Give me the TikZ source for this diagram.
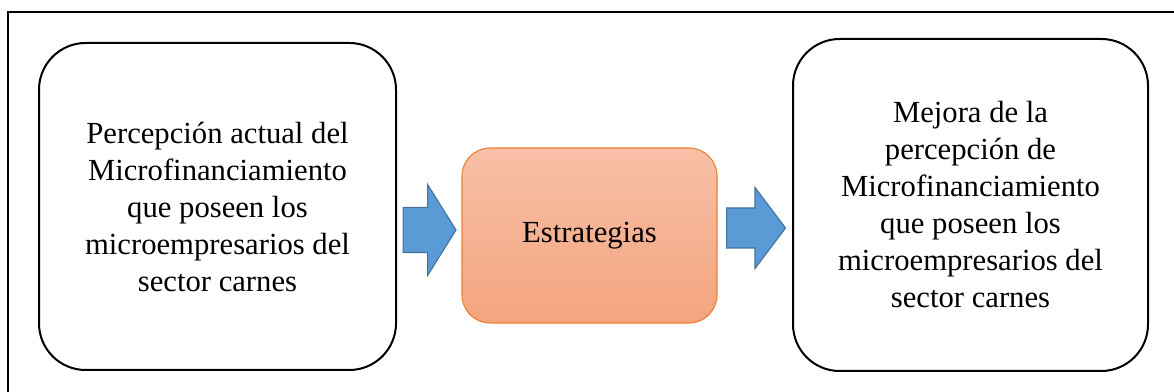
\documentclass[tikz,border=0pt]{standalone}
\usepackage{fontspec}
\setmainfont{Liberation Serif}
\usepackage{tikz}
\usetikzlibrary{shapes.arrows}
\definecolor{arrowblue}{HTML}{5B9BD5}
\definecolor{arrowedge}{HTML}{41719C}
\definecolor{stratop}{HTML}{F7C0A7}
\definecolor{strabot}{HTML}{F4A47E}
\definecolor{straedge}{HTML}{ED7D31}
\tikzstyle{box}=[draw,line width=1.5pt,rounded corners=35pt,align=center,font=\fontsize{23}{27.75}\selectfont]
\tikzstyle{strat}=[draw=straedge,line width=0.8pt,rounded corners=21pt,top color=stratop,bottom color=strabot,font=\fontsize{23}{27.75}\selectfont]
\tikzstyle{bigarrow}=[single arrow,draw=arrowedge,fill=arrowblue,line width=0.8pt,inner xsep=0pt,minimum width=0pt]

\begin{document}
\begin{tikzpicture}[x=0.75pt,y=0.75pt]
        \useasboundingbox (0,0) rectangle (1174,392);
        %\draw[help lines] (0,0) grid (1174,392);
        \draw[line width=1.5pt] (8,0) -- (8,380) -- (1174,380);
        \node[box,minimum width=267.75pt,minimum height=245.25pt] (actual) at (217.5,185.5)
          {Percepción actual del\\Microfinanciamiento\\que poseen los\\microempresarios del\\sector carnes};
        \node[strat,minimum width=191.25pt,minimum height=131.25pt] (estrategias) at (589.5,156.5) {Estrategias};
        \node[box,minimum width=266.25pt,minimum height=249pt] (mejora) at (970.5,187)
          {Mejora de la\\percepción de\\Microfinanciamiento\\que poseen los\\microempresarios del\\sector carnes};
        \node[bigarrow,inner ysep=16.5pt,single arrow head extend=17.25pt,minimum height=39.75pt,single arrow tip angle=116] (arrowin) at (422.5,162) {};
        \node[bigarrow,inner ysep=14.6pt,single arrow head extend=15.4pt,minimum height=44.25pt,single arrow tip angle=106] (arrowout) at (748.5,164) {};
\end{tikzpicture}
\end{document}
